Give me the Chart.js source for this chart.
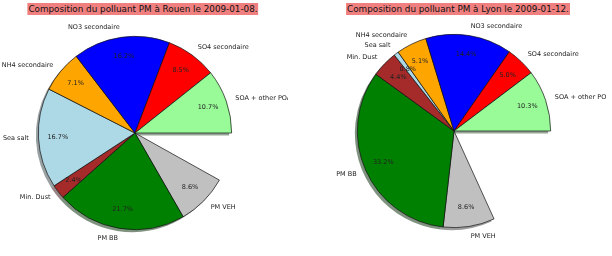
<!DOCTYPE html>
<html>
<head>
<meta charset="utf-8">
<script src="https://cdn.jsdelivr.net/npm/chart.js@4"></script>
<style>
  body { margin: 0; background: #fff; }
  .panel { position: absolute; top: 0; width: 306px; height: 256px; }
  .title {
    position: absolute; top: 3px; transform: translateX(-50%);
    white-space: nowrap; background: #f08080; color: #111;
    font: 8.8px "DejaVu Sans"; line-height: 12px; padding: 0 1px;
  }
</style>
</head>
<body>
<div class="panel" style="left:0">
  <canvas id="rouen" width="288" height="256"></canvas>
  <div class="title" style="left:143px">Composition du polluant PM à Rouen le 2009-01-08.</div>
</div>
<div class="panel" style="left:306px">
  <canvas id="lyon" width="300" height="256"></canvas>
  <div class="title" style="left:152px">Composition du polluant PM à Lyon le 2009-01-12.</div>
</div>
<script>
var sliceLabels = ['SOA + other POA', 'SO4 secondaire', 'NO3 secondaire', 'NH4 secondaire', 'Sea salt', 'Min. Dust', 'PM BB', 'PM VEH'];
var rouenValues = [10.7, 8.5, 16.2, 7.1, 16.7, 2.4, 21.7, 8.6];
var lyonValues = [10.3, 5.0, 14.4, 5.1, 0.8, 4.4, 33.2, 8.6];
var sliceColors = ['#98fb98', '#ff0000', '#0000ff', '#ffa500', '#add8e6', '#a52a2a', '#008000', '#c0c0c0'];

// matplotlib style shadow + outside labels + percentages
var pieDecor = {
    id: 'pieDecor',
    beforeDatasetsDraw: function(chart) {
        var ctx = chart.ctx;
        var arcs = chart.getDatasetMeta(0).data;
        ctx.save();
        for (var i = 1; i < arcs.length; i++) {
            var a = arcs[i];
            var rgb = Chart.helpers.color(chart.data.datasets[0].backgroundColor[i])._rgb;
            ctx.fillStyle = 'rgba(' + Math.round(rgb.r * 0.3) + ',' + Math.round(rgb.g * 0.3) + ',' + Math.round(rgb.b * 0.3) + ',0.5)';
            ctx.beginPath();
            ctx.moveTo(a.x - 2.5, a.y + 2.5);
            ctx.arc(a.x - 2.5, a.y + 2.5, a.outerRadius, a.startAngle, a.endAngle);
            ctx.closePath();
            ctx.fill();
        }
        ctx.restore();
    },
    afterDatasetsDraw: function(chart) {
        var ctx = chart.ctx;
        var arcs = chart.getDatasetMeta(0).data;
        var ds = chart.data.datasets[0];
        ctx.save();
        ctx.font = '6.5px "DejaVu Sans"';
        ctx.fillStyle = '#222';
        ctx.textBaseline = 'middle';
        for (var i = 1; i < arcs.length; i++) {
            var a = arcs[i];
            var mid = (a.startAngle + a.endAngle) / 2;
            var cs = Math.cos(mid), sn = Math.sin(mid);
            ctx.textAlign = cs > 0 ? 'left' : 'right';
            ctx.fillText(chart.data.labels[i], a.x + 1.1 * a.outerRadius * cs, a.y + 1.1 * a.outerRadius * sn);
            ctx.textAlign = 'center';
            ctx.fillText(ds.data[i].toFixed(1) + '%', a.x + 0.8 * a.outerRadius * cs, a.y + 0.8 * a.outerRadius * sn);
        }
        ctx.restore();
    }
};

function makePie(id, values, pad)
{
    var total = values.reduce(function(s, v) { return s + v; }, 0);
    // pie does not reach 100 %, the rest stays empty; clockwise drawing, so reverse
    var data = [100 - total].concat(values.slice().reverse());
    var labels = [''].concat(sliceLabels.slice().reverse());
    var colors = ['rgba(0,0,0,0)'].concat(sliceColors.slice().reverse());
    var borders = [0].concat(values.map(function() { return 0.7; }));
    return new Chart(document.getElementById(id), {
        type: 'pie',
        data: {
            labels: labels,
            datasets: [{
                data: data,
                backgroundColor: colors,
                borderColor: '#111',
                borderWidth: borders
            }]
        },
        options: {
            responsive: false,
            animation: false,
            events: [],
            rotation: 90,
            layout: { padding: pad },
            plugins: { legend: { display: false }, tooltip: { enabled: false } }
        },
        plugins: [pieDecor]
    });
}

makePie('rouen', rouenValues, { left: 38, right: 56, top: 36, bottom: 26 });
makePie('lyon', lyonValues, { left: 51, right: 55, top: 34, bottom: 28 });
</script>
</body>
</html>
